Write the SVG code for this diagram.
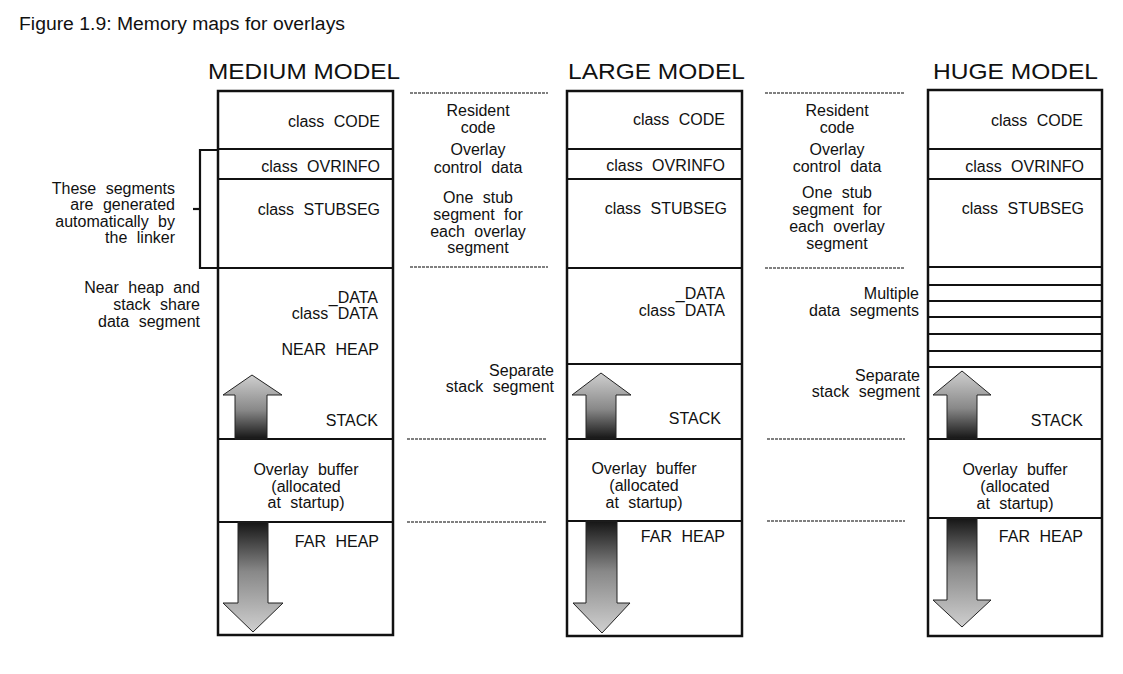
<svg xmlns="http://www.w3.org/2000/svg" width="1123" height="674" viewBox="0 0 1123 674">
<style>
text{font-family:"Liberation Sans",Arial,sans-serif;fill:#111}
.t{font-size:16px;word-spacing:5px}
.h{font-size:21.5px}
.cap{font-size:18px}
.r{text-anchor:end}
.c{text-anchor:middle}
.box{fill:#fff;stroke:#111;stroke-width:2.5}
.ln{stroke:#111;stroke-width:2.2;fill:none}
.dot{stroke:#808080;stroke-width:1.8;stroke-dasharray:3 1;fill:none}
.au{fill:url(#gUp);stroke:#222;stroke-width:1}
.ad{fill:url(#gDn);stroke:#222;stroke-width:1}
</style>
<defs>
<linearGradient id="gUp" x1="0" y1="0" x2="0" y2="1">
<stop offset="0" stop-color="#cfcfcf"/>
<stop offset="0.55" stop-color="#888"/>
<stop offset="1" stop-color="#151515"/>
</linearGradient>
<linearGradient id="gDn" x1="0" y1="0" x2="0" y2="1">
<stop offset="0" stop-color="#151515"/>
<stop offset="0.45" stop-color="#888"/>
<stop offset="1" stop-color="#cfcfcf"/>
</linearGradient>
</defs>
<rect width="1123" height="674" fill="#fff"/>
<text class="cap" x="19" y="30" textLength="326" lengthAdjust="spacingAndGlyphs">Figure 1.9: Memory maps for overlays</text>

<g id="medium-model">
<text class="h" x="208" y="79" textLength="192" lengthAdjust="spacingAndGlyphs">MEDIUM MODEL</text>
<rect class="box" x="218" y="91" width="175" height="544"/>
<line class="ln" x1="218" y1="149" x2="393" y2="149"/>
<line class="ln" x1="218" y1="179" x2="393" y2="179"/>
<line class="ln" x1="218" y1="268" x2="393" y2="268"/>
<line class="ln" x1="218" y1="439" x2="393" y2="439"/>
<line class="ln" x1="218" y1="522" x2="393" y2="522"/>
<text class="t r" x="380" y="127">class CODE</text>
<text class="t r" x="380" y="172">class OVRINFO</text>
<text class="t r" x="380" y="215">class STUBSEG</text>
<text class="t r" x="378" y="303">_DATA</text>
<text class="t r" x="378" y="319">class DATA</text>
<text class="t r" x="379" y="355">NEAR HEAP</text>
<text class="t r" x="378" y="426">STACK</text>
<text class="t c" x="306" y="475">Overlay buffer</text>
<text class="t c" x="306" y="492">(allocated</text>
<text class="t c" x="306" y="508">at startup)</text>
<text class="t r" x="379" y="547">FAR HEAP</text>
<polygon class="au" points="252,375 282,395 267,395 267,439 235,439 235,395 223,395"/>
<polygon class="ad" points="238,522 268,522 268,603 283,603 253,632 223,603 238,603"/>
</g>

<g id="large-model">
<text class="h" x="568" y="79" textLength="177" lengthAdjust="spacingAndGlyphs">LARGE MODEL</text>
<rect class="box" x="567" y="91" width="175" height="545"/>
<line class="ln" x1="567" y1="149" x2="742" y2="149"/>
<line class="ln" x1="567" y1="179" x2="742" y2="179"/>
<line class="ln" x1="567" y1="268" x2="742" y2="268"/>
<line class="ln" x1="567" y1="364" x2="742" y2="364"/>
<line class="ln" x1="567" y1="439" x2="742" y2="439"/>
<line class="ln" x1="567" y1="521" x2="742" y2="521"/>
<text class="t r" x="725" y="125">class CODE</text>
<text class="t r" x="725" y="171">class OVRINFO</text>
<text class="t r" x="727" y="214">class STUBSEG</text>
<text class="t r" x="725" y="299">_DATA</text>
<text class="t r" x="725" y="316">class DATA</text>
<text class="t r" x="721" y="424">STACK</text>
<text class="t c" x="644" y="474">Overlay buffer</text>
<text class="t c" x="644" y="491">(allocated</text>
<text class="t c" x="644" y="508">at startup)</text>
<text class="t r" x="725" y="542">FAR HEAP</text>
<polygon class="au" points="601,373 631,395 616,395 616,439 586,439 586,395 572,395"/>
<polygon class="ad" points="586,521 617,521 617,603 630,603 602,633 573,603 586,603"/>
</g>

<g id="huge-model">
<text class="h" x="933" y="79" textLength="165" lengthAdjust="spacingAndGlyphs">HUGE MODEL</text>
<rect class="box" x="928" y="90" width="174" height="546"/>
<line class="ln" x1="928" y1="149" x2="1102" y2="149"/>
<line class="ln" x1="928" y1="179" x2="1102" y2="179"/>
<line class="ln" x1="928" y1="267" x2="1102" y2="267"/>
<line class="ln" x1="928" y1="285" x2="1102" y2="285"/>
<line class="ln" x1="928" y1="301" x2="1102" y2="301"/>
<line class="ln" x1="928" y1="317" x2="1102" y2="317"/>
<line class="ln" x1="928" y1="334" x2="1102" y2="334"/>
<line class="ln" x1="928" y1="351" x2="1102" y2="351"/>
<line class="ln" x1="928" y1="367" x2="1102" y2="367"/>
<line class="ln" x1="928" y1="439" x2="1102" y2="439"/>
<line class="ln" x1="928" y1="518" x2="1102" y2="518"/>
<text class="t r" x="1083" y="126">class CODE</text>
<text class="t r" x="1084" y="172">class OVRINFO</text>
<text class="t r" x="1084" y="214">class STUBSEG</text>
<text class="t r" x="1083" y="426">STACK</text>
<text class="t c" x="1015" y="475">Overlay buffer</text>
<text class="t c" x="1015" y="492">(allocated</text>
<text class="t c" x="1015" y="509">at startup)</text>
<text class="t r" x="1083" y="542">FAR HEAP</text>
<polygon class="au" points="962,371 991,395 977,395 977,439 947,439 947,395 933,395"/>
<polygon class="ad" points="947,518 977,518 977,600 991,600 962,627 933,600 947,600"/>
</g>

<g id="linker-note">
<text class="t r" x="175" y="194">These segments</text>
<text class="t r" x="175" y="210">are generated</text>
<text class="t r" x="175" y="227">automatically by</text>
<text class="t r" x="175" y="243">the linker</text>
</g>
<g id="near-heap-note">
<text class="t r" x="200" y="293">Near heap and</text>
<text class="t r" x="200" y="310">stack share</text>
<text class="t r" x="200" y="327">data segment</text>
</g>
<g id="large-notes">
<text class="t c" x="478" y="116">Resident</text>
<text class="t c" x="478" y="133">code</text>
<text class="t c" x="478" y="155">Overlay</text>
<text class="t c" x="478" y="173">control data</text>
<text class="t c" x="478" y="203">One stub</text>
<text class="t c" x="478" y="220">segment for</text>
<text class="t c" x="478" y="237">each overlay</text>
<text class="t c" x="478" y="253">segment</text>
<text class="t r" x="554" y="376">Separate</text>
<text class="t r" x="554" y="392">stack segment</text>
</g>
<g id="huge-notes">
<text class="t c" x="837" y="116">Resident</text>
<text class="t c" x="837" y="133">code</text>
<text class="t c" x="837" y="155">Overlay</text>
<text class="t c" x="837" y="172">control data</text>
<text class="t c" x="837" y="198">One stub</text>
<text class="t c" x="837" y="215">segment for</text>
<text class="t c" x="837" y="232">each overlay</text>
<text class="t c" x="837" y="249">segment</text>
<text class="t r" x="919" y="299">Multiple</text>
<text class="t r" x="919" y="316">data segments</text>
<text class="t r" x="920" y="381">Separate</text>
<text class="t r" x="920" y="397">stack segment</text>
</g>

<g id="connectors">
<polyline class="ln" points="218,150 200,150 200,268 218,268"/>
<line class="ln" x1="193" y1="209" x2="200" y2="209"/>
<line class="dot" x1="410" y1="93" x2="548" y2="93"/>
<line class="dot" x1="410" y1="267" x2="548" y2="267"/>
<line class="dot" x1="407" y1="439" x2="547" y2="439"/>
<line class="dot" x1="407" y1="522" x2="547" y2="522"/>
<line class="dot" x1="765" y1="93" x2="905" y2="93"/>
<line class="dot" x1="765" y1="268" x2="905" y2="268"/>
<line class="dot" x1="767" y1="439" x2="905" y2="439"/>
<line class="dot" x1="767" y1="521" x2="905" y2="521"/>
</g>
</svg>
